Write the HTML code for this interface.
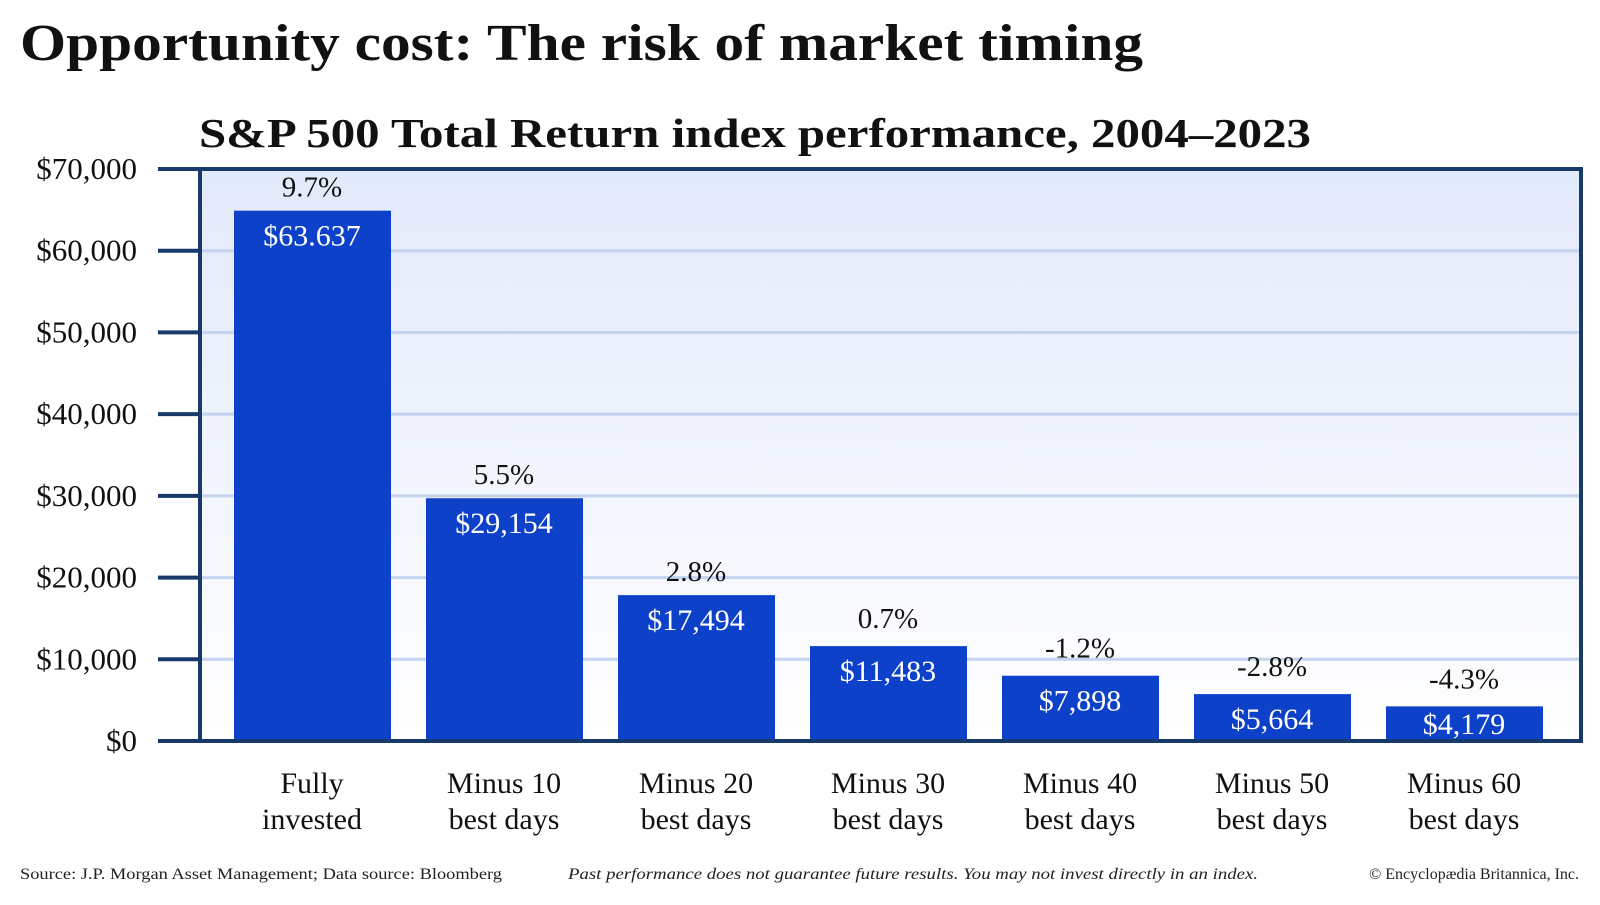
<!DOCTYPE html>
<html><head><meta charset="utf-8"><style>
body{margin:0;width:1600px;height:900px;background:#fff;overflow:hidden;font-family:"Liberation Serif",serif;}
svg text{font-family:"Liberation Serif",serif;}
</style></head><body>
<svg id="chart" width="1600" height="900">
<defs><linearGradient id="bg" x1="0" y1="0" x2="0" y2="1"><stop offset="0" stop-color="#e2e9fa"/><stop offset="1" stop-color="#ffffff"/></linearGradient></defs>
<text x="20" y="60" font-size="52" font-weight="bold" fill="#111" textLength="1123" lengthAdjust="spacingAndGlyphs">Opportunity cost: The risk of market timing</text>
<text x="199" y="147" font-size="41" font-weight="bold" fill="#111" textLength="1112" lengthAdjust="spacingAndGlyphs">S&amp;P 500 Total Return index performance, 2004–2023</text>
<rect x="200" y="169" width="1381" height="572" fill="url(#bg)"/>
<g id="grid"></g><g id="bars"></g>
<rect x="200" y="169" width="1381" height="572" fill="none" stroke="#173a6b" stroke-width="4"/>
<g id="axis"></g>
<text x="20" y="879" font-size="16" fill="#222" textLength="482" lengthAdjust="spacingAndGlyphs">Source: J.P. Morgan Asset Management; Data source: Bloomberg</text>
<text x="568" y="879" font-size="16" font-style="italic" fill="#222" textLength="690" lengthAdjust="spacingAndGlyphs">Past performance does not guarantee future results. You may not invest directly in an index.</text>
<text x="1579" y="879" text-anchor="end" font-size="16" fill="#222">© Encyclopædia Britannica, Inc.</text>
</svg>
<script>
const categories=[["Fully","invested"],["Minus 10","best days"],["Minus 20","best days"],["Minus 30","best days"],["Minus 40","best days"],["Minus 50","best days"],["Minus 60","best days"]];
const values=[64900,29710,17850,11610,7990,5740,4240];
const valueLabels=["$63.637","$29,154","$17,494","$11,483","$7,898","$5,664","$4,179"];
const pctLabels=["9.7%","5.5%","2.8%","0.7%","-1.2%","-2.8%","-4.3%"];
const ticks=[0,10000,20000,30000,40000,50000,60000,70000];
const tickLabels=["$0","$10,000","$20,000","$30,000","$40,000","$50,000","$60,000","$70,000"];
const NS="http://www.w3.org/2000/svg";
const y=v=>741-v*(572/70000);
const xc=i=>312+i*192;
function mk(t,a,p,txt){const e=document.createElementNS(NS,t);for(const k in a)e.setAttribute(k,a[k]);if(txt!=null)e.textContent=txt;p.appendChild(e);return e;}
const grid=document.getElementById('grid'),bars=document.getElementById('bars'),axis=document.getElementById('axis');
ticks.forEach((t,i)=>{
 if(t>0&&t<70000){const g=mk('line',{x1:200,x2:1581,y1:y(t),y2:y(t),stroke:'#c3d3f0','stroke-width':3},grid);
 
 }
 const tk=mk('line',{x1:158,x2:200,y1:y(t),y2:y(t),stroke:'#173a6b','stroke-width':4},axis);
 
 
 const l=mk('text',{x:137,y:y(t)+10,'text-anchor':'end','font-size':31,fill:'#111'},axis,tickLabels[i]);
 
 
});
values.forEach((v,i)=>{
 const b=mk('rect',{x:xc(i)-78,y:y(v),width:157,height:741-y(v),fill:'#0d41c9'},bars);
 
 
 const vl=mk('text',{x:xc(i),y:Math.min(y(v)+35,734),'text-anchor':'middle','font-size':30,fill:'#fff'},bars,valueLabels[i]);
 
 
 const pl=mk('text',{x:xc(i),y:y(v)-(i<3?14:18),'text-anchor':'middle','font-size':29,fill:'#111'},bars,pctLabels[i]);
 
 
 categories[i].forEach((c,j)=>{const cl=mk('text',{x:xc(i),y:793+j*36,'text-anchor':'middle','font-size':30,fill:'#111'},axis,c);
 
 });
});
</script>
</body></html>
